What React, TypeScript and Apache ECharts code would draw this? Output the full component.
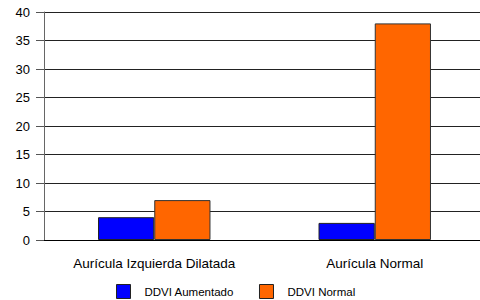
import React, { useEffect, useRef } from "react";
import * as echarts from "echarts";

const categories = ["Aurícula Izquierda Dilatada", "Aurícula Normal"];
const seriesNames = ["DDVI Aumentado", "DDVI Normal"];
const ddviAumentado = [4, 3];
const ddviNormal = [7, 38];
const yTicks = [0, 5, 10, 15, 20, 25, 30, 35, 40];

export default function App() {
  const ref = useRef<HTMLDivElement>(null);
  useEffect(() => {
    if (!ref.current) return;
    const chart = echarts.init(ref.current, undefined, { renderer: "svg" });
    chart.setOption({
      animation: false,
      backgroundColor: "#ffffff",
      textStyle: { fontFamily: "Liberation Sans, Arial, sans-serif" },
      grid: { left: 44, top: 12, width: 441, height: 228, containLabel: false },
      legend: {
        data: seriesNames,
        left: 116,
        top: 284,
        padding: 0,
        itemWidth: 14,
        itemHeight: 14,
        itemGap: 25,
        icon: "rect",
        itemStyle: { borderColor: "#222", borderWidth: 1 },
        textStyle: { fontSize: 11.5, color: "#000", padding: [0, 0, 0, 9] },
      },
      xAxis: {
        type: "category",
        data: categories,
        axisLine: { lineStyle: { color: "#000", width: 1 } },
        axisTick: { alignWithLabel: true, length: 8, lineStyle: { color: "#555" } },
        axisLabel: { fontSize: 13.5, color: "#000", margin: 16 },
      },
      yAxis: {
        type: "value",
        min: yTicks[0],
        max: yTicks[yTicks.length - 1],
        interval: 5,
        axisLine: { show: true, lineStyle: { color: "#666", width: 1 } },
        axisTick: { show: true, length: 8, lineStyle: { color: "#555" } },
        axisLabel: { fontSize: 13, color: "#000", margin: 14 },
        splitLine: { lineStyle: { color: "#222", width: 1 } },
      },
      series: [
        {
          name: seriesNames[0],
          type: "bar",
          data: ddviAumentado,
          barGap: "0%",
          barCategoryGap: "49%",
          itemStyle: { color: "#0000ff", borderColor: "#222", borderWidth: 1 },
        },
        {
          name: seriesNames[1],
          type: "bar",
          data: ddviNormal,
          itemStyle: { color: "#ff6600", borderColor: "#333", borderWidth: 1 },
        },
      ],
    });
    return () => chart.dispose();
  }, []);
  return (
    <div style={{ width: 480, height: 300, position: "absolute", left: 0, top: 0, overflow: "hidden" }}>
      <div ref={ref} style={{ width: 490, height: 300 }} />
    </div>
  );
}
